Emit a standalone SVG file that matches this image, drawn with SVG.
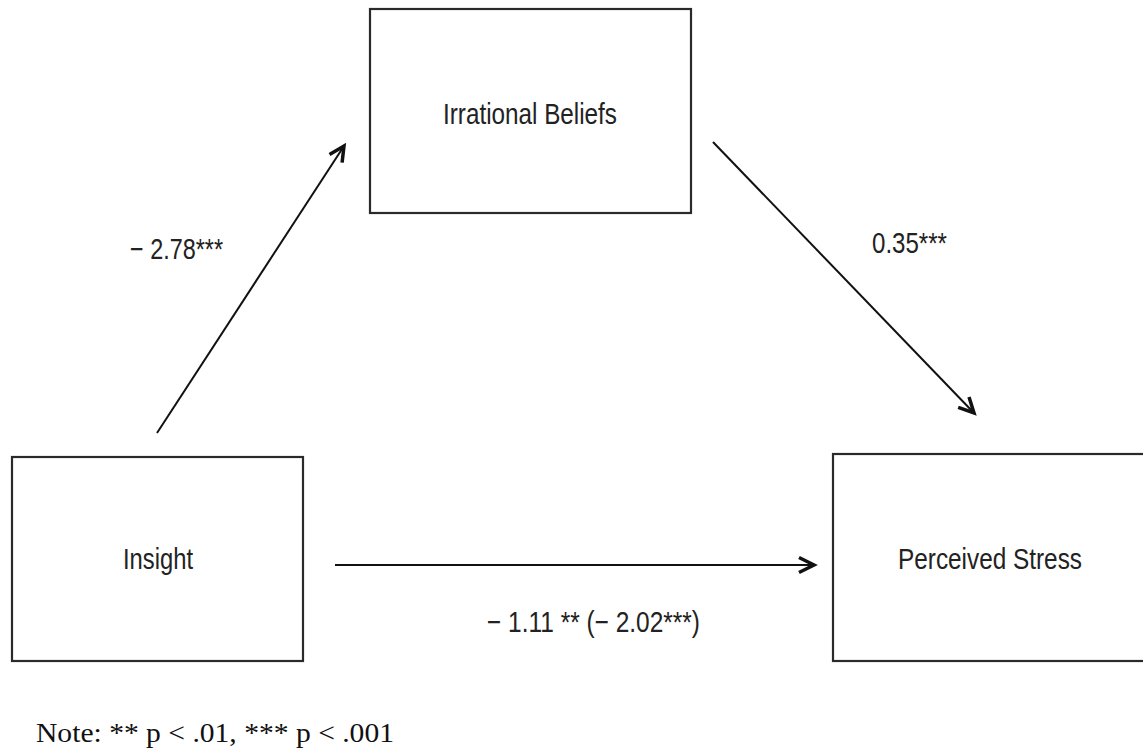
<svg xmlns="http://www.w3.org/2000/svg" width="1143" height="749" viewBox="0 0 1143 749">
<style>
.box{fill:#fff;stroke:#2a2a2a;stroke-width:2.2}
.lbl{font-family:"Liberation Sans",Arial,sans-serif;font-size:29px;fill:#222}
.conn{stroke:#111;stroke-width:2;fill:none}
.note{font-family:"Liberation Serif","Times New Roman",serif;font-size:27px;fill:#111}
</style>
<defs>
<marker id="arr" markerUnits="userSpaceOnUse" viewBox="-20 -10 24 20" refX="0" refY="0" markerWidth="24" markerHeight="20" orient="auto">
<path d="M-15,-7.5 L0,0 L-15,7.5" fill="none" stroke="#111" stroke-width="3.5" stroke-linejoin="miter"/>
</marker>
</defs>
<rect width="1143" height="749" fill="#fff"/>
<g id="irrational-beliefs">
<rect class="box" x="370" y="9" width="321" height="204"/>
<text class="lbl" x="443" y="124" textLength="174" lengthAdjust="spacingAndGlyphs">Irrational Beliefs</text>
</g>
<g id="insight">
<rect class="box" x="12" y="457" width="291" height="204"/>
<text class="lbl" x="123" y="569" textLength="70" lengthAdjust="spacingAndGlyphs">Insight</text>
</g>
<g id="perceived-stress">
<rect class="box" x="833" y="454" width="330" height="207"/>
<text class="lbl" x="898" y="569" textLength="184" lengthAdjust="spacingAndGlyphs">Perceived Stress</text>
</g>
<g id="connectors">
<line class="conn" x1="157" y1="433" x2="344" y2="146" marker-end="url(#arr)"/>
<line class="conn" x1="713" y1="142" x2="974" y2="413" marker-end="url(#arr)"/>
<line class="conn" x1="335" y1="565" x2="814" y2="565" marker-end="url(#arr)"/>
<text class="lbl" x="130" y="259" textLength="93" lengthAdjust="spacingAndGlyphs">− 2.78***</text>
<text class="lbl" x="872" y="253" textLength="75" lengthAdjust="spacingAndGlyphs">0.35***</text>
<text class="lbl" x="487" y="632" textLength="213" lengthAdjust="spacingAndGlyphs">− 1.11 ** (− 2.02***)</text>
</g>
<text class="note" x="36" y="742" textLength="358" lengthAdjust="spacingAndGlyphs">Note: ** p &lt; .01, *** p &lt; .001</text>
</svg>
